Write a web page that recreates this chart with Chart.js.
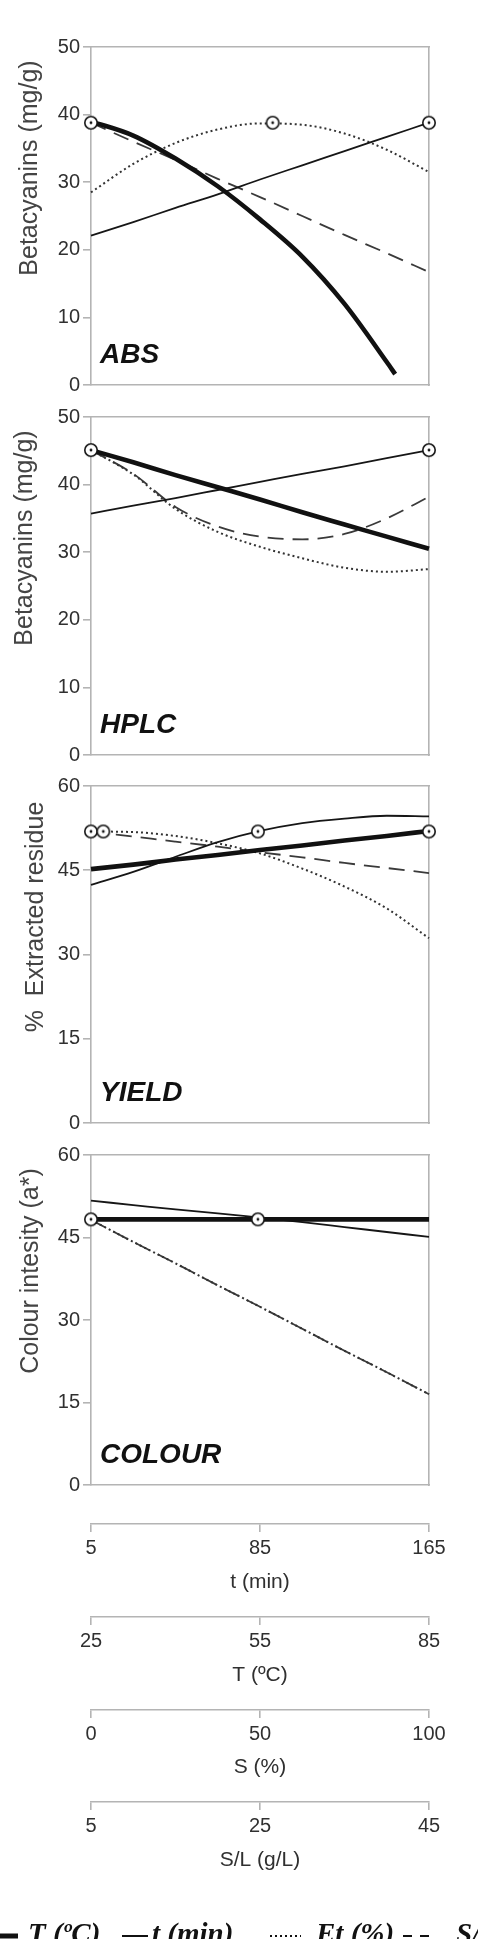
<!DOCTYPE html>
<html>
<head>
<meta charset="utf-8">
<script src="https://cdn.jsdelivr.net/npm/chart.js@4.4.1/dist/chart.umd.min.js"></script>
<style>
  html, body { margin: 0; padding: 0; background: #fff; overflow: hidden; }
  #wrap { position: relative; width: 478px; height: 1939px; overflow: hidden; background: #fff; }
  canvas { position: absolute; left: 0; }
</style>
</head>
<body>
<div id="wrap">
  <canvas id="absChart" width="478" height="400" style="top:0px"></canvas>
  <canvas id="hplcChart" width="478" height="370" style="top:400px"></canvas>
  <canvas id="yieldChart" width="478" height="370" style="top:770px"></canvas>
  <canvas id="colourChart" width="478" height="360" style="top:1140px"></canvas>
  <canvas id="axesChart" width="478" height="460" style="top:1500px"></canvas>
</div>
<script>
'use strict';

// x positions (read against the t (min) axis, the other factors share the same positions)
const tGrid = [5, 25, 45, 65, 85, 105, 125, 145, 165];

// ABS panel
const absTX = [5, 25, 45, 65, 85, 105, 125, 145, 149];
const absT = [39.0, 36.9, 33.5, 29.4, 24.5, 19.0, 12.0, 3.4, 1.6];
const absTime = [22.1, 24.1, 26.2, 28.2, 30.4, 32.5, 34.6, 36.7, 38.8];
const absEt = [28.5, 32.7, 35.8, 37.8, 38.7, 38.5, 37.2, 34.8, 31.5];
const absSL = [38.8, 36.0, 33.3, 30.5, 27.8, 25.0, 22.2, 19.5, 16.7];
const absOptX = [5, 91, 165];
const absOptY = [38.8, 38.8, 38.8];

// HPLC panel
const hplcT = [45.1, 43.3, 41.4, 39.6, 37.8, 35.9, 34.1, 32.3, 30.5];
const hplcTime = [35.7, 36.9, 38.0, 39.2, 40.4, 41.6, 42.7, 43.9, 45.1];
const hplcEt = [45.1, 41.5, 36.4, 33.0, 30.8, 29.1, 27.7, 27.1, 27.5];
const hplcSL = [45.1, 41.6, 36.7, 33.8, 32.3, 31.9, 32.7, 35.0, 38.2];
const hplcOptX = [5, 165];
const hplcOptY = [45.1, 45.1];

// YIELD panel
const yieldT = [45.2, 46.0, 46.9, 47.7, 48.6, 49.4, 50.3, 51.1, 52.0];
const yieldTime = [42.4, 44.7, 47.4, 50.0, 52.0, 53.4, 54.2, 54.7, 54.6];
const yieldEt = [51.9, 51.8, 51.1, 49.8, 48.0, 45.3, 42.1, 38.2, 32.9];
const yieldSL = [51.9, 51.0, 50.1, 49.2, 48.2, 47.3, 46.3, 45.4, 44.5];
const yieldOptX = [5, 10.8, 84, 165];
const yieldOptY = [51.9, 51.9, 51.9, 51.9];

// COLOUR panel
const colourT = [48.3, 48.3, 48.3, 48.3, 48.3, 48.3, 48.3, 48.3, 48.3];
const colourTime = [51.7, 50.9, 50.1, 49.4, 48.6, 47.8, 46.9, 46.0, 45.1];
const colourEt = [48.2, 44.2, 40.3, 36.3, 32.4, 28.4, 24.4, 20.5, 16.5];
const colourSL = [48.2, 44.2, 40.3, 36.3, 32.4, 28.4, 24.4, 20.5, 16.5];
const colourOptX = [5, 84];
const colourOptY = [48.3, 48.3];

// bottom factor axes
const timeTicks = [5, 85, 165];
const tempTicks = [25, 55, 85];
const solventTicks = [0, 50, 100];
const ratioTicks = [5, 25, 45];

const legendLabels = ['T (ºC)', 't (min)', 'Et (%)', 'S/L (g/L)'];

const axisGray = '#b4b4b4';
const textGray = '#303030';
const sans = "'Liberation Sans', Arial, sans-serif";

function toPoints(xs, ys) {
  return xs.map((x, i) => ({ x: x, y: ys[i] }));
}

// circle with a dot, used for the optimum points
function makeMarker() {
  const c = document.createElement('canvas');
  c.width = 16;
  c.height = 16;
  const g = c.getContext('2d');
  g.beginPath();
  g.arc(8, 8, 6.2, 0, Math.PI * 2);
  g.fillStyle = '#fff';
  g.fill();
  g.lineWidth = 1.6;
  g.strokeStyle = '#151515';
  g.stroke();
  g.beginPath();
  g.arc(8, 8, 1.4, 0, Math.PI * 2);
  g.fillStyle = '#151515';
  g.fill();
  return c;
}
const marker = makeMarker();

// y title and panel name
const panelText = {
  id: 'panelText',
  afterDraw(chart, args, opts) {
    const { ctx, chartArea } = chart;
    ctx.save();
    ctx.fillStyle = '#444';
    ctx.font = '25px ' + sans;
    ctx.textAlign = 'center';
    ctx.textBaseline = 'alphabetic';
    ctx.translate(opts.titleBase, chartArea.top + opts.titleCenter);
    ctx.rotate(-Math.PI / 2);
    ctx.fillText(opts.title, 0, 0);
    ctx.restore();

    ctx.save();
    ctx.fillStyle = '#111';
    ctx.font = 'italic bold 28px ' + sans;
    ctx.textAlign = 'left';
    ctx.textBaseline = 'alphabetic';
    ctx.fillText(opts.label, chartArea.left + 9, chartArea.bottom - 22);
    ctx.restore();
  }
};

function lineSet(label, data, width, color, dash) {
  return {
    label: label,
    data: data,
    borderColor: color,
    borderWidth: width,
    borderDash: dash,
    borderCapStyle: 'butt',
    pointRadius: 0,
    cubicInterpolationMode: 'monotone',
    fill: false,
    clip: false
  };
}

function makePanel(id, p) {
  return new Chart(document.getElementById(id), {
    type: 'line',
    data: {
      datasets: [
        {
          label: 'optimum',
          data: toPoints(p.optX, p.optY),
          showLine: false,
          pointStyle: marker,
          pointRadius: 6,
          clip: false
        },
        lineSet(legendLabels[0], toPoints(p.tX || tGrid, p.T), 4.6, '#111', []),
        lineSet(legendLabels[1], toPoints(tGrid, p.time), 1.8, '#161616', []),
        lineSet(legendLabels[2], toPoints(tGrid, p.Et), 2, '#333', [2, 3]),
        lineSet(legendLabels[3], toPoints(tGrid, p.SL), 1.8, '#3a3a3a', [16, 9])
      ]
    },
    options: {
      responsive: false,
      animation: false,
      layout: { autoPadding: false, padding: { top: p.padTop, bottom: p.padBottom, left: 0, right: 49 } },
      plugins: {
        legend: { display: false },
        tooltip: { enabled: false },
        panelText: { title: p.title, label: p.label, titleBase: p.titleBase, titleCenter: p.titleCenter }
      },
      scales: {
        x: {
          type: 'linear', position: 'bottom', min: 5, max: 165,
          ticks: { display: false },
          grid: { display: false },
          border: { color: axisGray, width: 1.6 },
          afterFit: s => { s.height = 0; }
        },
        xTop: {
          type: 'linear', position: 'top',
          ticks: { display: false },
          grid: { display: false },
          border: { color: axisGray, width: 1.6 },
          afterFit: s => { s.height = 0; }
        },
        y: {
          type: 'linear', position: 'left', min: 0, max: p.yMax,
          ticks: { stepSize: p.yStep, padding: 3, color: textGray, font: { family: sans, size: 20 } },
          grid: { drawOnChartArea: false, drawTicks: true, tickLength: 8, color: axisGray, lineWidth: 1.6 },
          border: { color: axisGray, width: 1.6 },
          afterFit: s => { s.width = 91; }
        },
        yRight: {
          type: 'linear', position: 'right',
          ticks: { display: false },
          grid: { display: false },
          border: { color: axisGray, width: 1.6 },
          afterFit: s => { s.width = 0; }
        }
      }
    },
    plugins: [panelText]
  });
}

makePanel('absChart', {
  T: absT, tX: absTX, time: absTime, Et: absEt, SL: absSL, optX: absOptX, optY: absOptY,
  yMax: 50, yStep: 10, padTop: 47, padBottom: 14,
  title: 'Betacyanins (mg/g)', label: 'ABS', titleBase: 37, titleCenter: 121
});

makePanel('hplcChart', {
  T: hplcT, time: hplcTime, Et: hplcEt, SL: hplcSL, optX: hplcOptX, optY: hplcOptY,
  yMax: 50, yStep: 10, padTop: 17, padBottom: 15,
  title: 'Betacyanins (mg/g)', label: 'HPLC', titleBase: 32, titleCenter: 121
});

makePanel('yieldChart', {
  T: yieldT, time: yieldTime, Et: yieldEt, SL: yieldSL, optX: yieldOptX, optY: yieldOptY,
  yMax: 60, yStep: 15, padTop: 16, padBottom: 17,
  title: '%  Extracted residue', label: 'YIELD', titleBase: 43, titleCenter: 131
});

makePanel('colourChart', {
  T: colourT, time: colourTime, Et: colourEt, SL: colourSL, optX: colourOptX, optY: colourOptY,
  yMax: 60, yStep: 15, padTop: 15, padBottom: 7,
  title: 'Colour intesity (a*)', label: 'COLOUR', titleBase: 38, titleCenter: 116
});

// legend under the factor axes (cut by the page edge like the original)
const bottomLegend = {
  id: 'bottomLegend',
  afterDraw(chart) {
    const ctx = chart.ctx;
    const y = 436;
    const items = [
      { x0: -16, x1: 18, tx: 28, width: 5, dash: [] },
      { x0: 122, x1: 148, tx: 152, width: 2, dash: [] },
      { x0: 270, x1: 301, tx: 316, width: 2, dash: [2, 3] },
      { x0: 403, x1: 432, tx: 456, width: 2, dash: [9, 8] }
    ];
    ctx.save();
    ctx.fillStyle = '#111';
    ctx.strokeStyle = '#111';
    ctx.font = "italic bold 29px 'Liberation Serif', 'Times New Roman', serif";
    ctx.textBaseline = 'alphabetic';
    items.forEach((it, i) => {
      ctx.beginPath();
      ctx.lineWidth = it.width;
      ctx.setLineDash(it.dash);
      ctx.moveTo(it.x0, y);
      ctx.lineTo(it.x1, y);
      ctx.stroke();
      ctx.fillText(legendLabels[i], it.tx, 443);
    });
    ctx.restore();
  }
};

function factorAxis(min, max, ticks, title, height) {
  return {
    type: 'linear', position: 'bottom', min: min, max: max,
    afterBuildTicks: s => { s.ticks = ticks.map(v => ({ value: v })); },
    ticks: { padding: 4, color: textGray, font: { family: sans, size: 20 } },
    grid: { drawOnChartArea: false, drawTicks: true, tickLength: 8, color: axisGray, lineWidth: 1.6 },
    border: { color: axisGray, width: 1.6 },
    title: { display: true, text: title, color: textGray, font: { family: sans, size: 21 }, padding: { top: 0, bottom: 22 } },
    afterFit: s => { s.height = height; }
  };
}

// chart area is a thin strip above the first axis; the four axes stack below it
new Chart(document.getElementById('axesChart'), {
  type: 'line',
  data: { datasets: [] },
  options: {
    responsive: false,
    animation: false,
    layout: { autoPadding: false, padding: { top: 14, bottom: 65, left: 91, right: 49 } },
    plugins: { legend: { display: false }, tooltip: { enabled: false } },
    scales: {
      x: factorAxis(5, 165, timeTicks, 't (min)', 93),
      xTemp: factorAxis(25, 85, tempTicks, 'T (ºC)', 93),
      xSolvent: factorAxis(0, 100, solventTicks, 'S (%)', 92),
      xRatio: factorAxis(5, 45, ratioTicks, 'S/L (g/L)', 93),
      y: { display: false }
    }
  },
  plugins: [bottomLegend]
});
</script>
</body>
</html>
